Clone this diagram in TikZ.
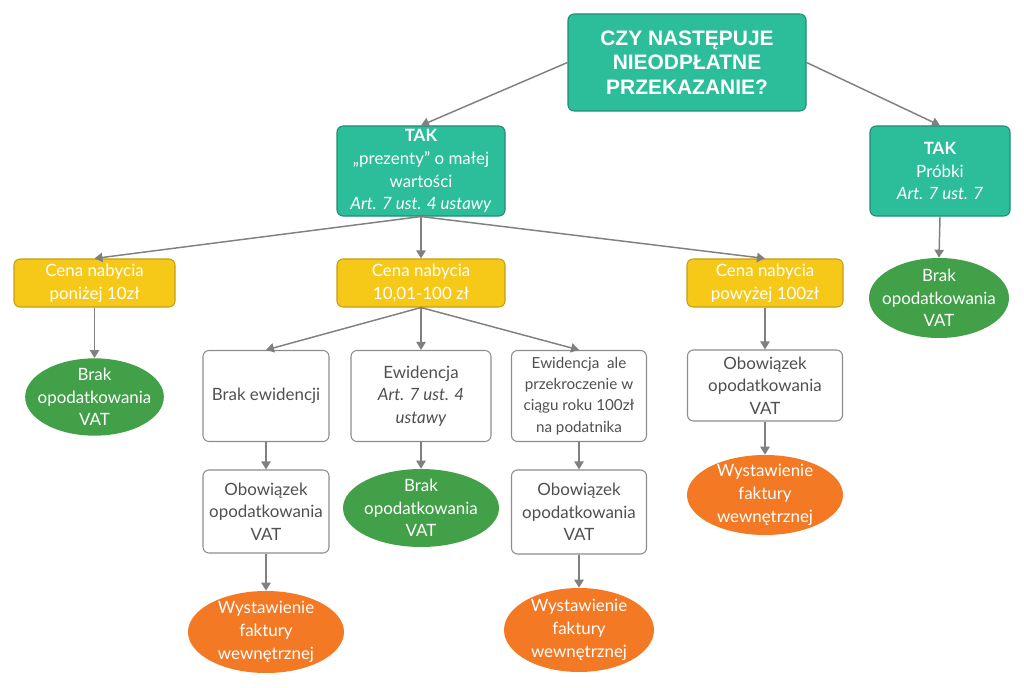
\documentclass[tikz,border=0pt]{standalone}
\usepackage{fontspec}
\setmainfont{Lato}
\newfontfamily\titlefont{Liberation Sans}
\usetikzlibrary{shapes.geometric,arrows.meta}
\definecolor{tealf}{RGB}{44,189,155}
\definecolor{teald}{RGB}{32,140,114}
\definecolor{yelf}{RGB}{246,201,24}
\definecolor{yeld}{RGB}{196,158,20}
\definecolor{grnf}{RGB}{66,160,72}
\definecolor{orgf}{RGB}{243,121,36}
\definecolor{linec}{RGB}{128,128,128}
\definecolor{boxd}{RGB}{140,140,140}
\definecolor{txtg}{RGB}{80,80,80}
\begin{document}
\begin{tikzpicture}[x=0.75pt,y=-0.75pt,
 base/.style={align=center, inner sep=0pt, font=\fontsize{12.7}{17}\selectfont},
 tealbox/.style={base, draw=teald, fill=tealf, text=white, rounded corners=4.5pt, line width=0.8pt},
 yelbox/.style={base, draw=yeld, fill=yelf, text=white, rounded corners=4.5pt, line width=0.8pt},
 whbox/.style={base, draw=boxd, fill=white, text=txtg, rounded corners=4.5pt, line width=0.8pt},
 ellbase/.style={base, ellipse, inner xsep=-14pt, inner ysep=-9pt},
 grnell/.style={ellbase, fill=grnf, text=white},
 orgell/.style={ellbase, fill=orgf, text=white},
 conn/.style={draw=linec, line width=1.1pt, -{Triangle[length=6pt,width=7pt]}}
]
\useasboundingbox (0,0) rectangle (1024,688);

\node[tealbox, minimum width=178.5pt, minimum height=72.75pt,
  font=\titlefont\bfseries\fontsize{15.7}{18.4}\selectfont] (root) at (687,62.5)
  {CZY NASTĘPUJE\\NIEODPŁATNE\\PRZEKAZANIE?};
\node[tealbox, minimum width=126pt, minimum height=67.5pt] (takl) at (421,171)
  {\textbf{TAK}\\„prezenty” o małej\\wartości\\\textit{Art. 7 ust. 4 ustawy}};
\node[tealbox, minimum width=105pt, minimum height=67.5pt] (takr) at (940,171)
  {\textbf{TAK}\\Próbki\\\textit{Art. 7 ust. 7}};

\node[yelbox, minimum width=120.75pt, minimum height=36pt] (y1) at (94.5,283)
  {Cena nabycia\\poniżej 10zł};
\node[yelbox, minimum width=126pt, minimum height=36pt] (y2) at (421,283)
  {Cena nabycia\\10,01-100 zł};
\node[yelbox, minimum width=117pt, minimum height=36pt] (y3) at (765,283)
  {Cena nabycia\\powyżej 100zł};

\node[grnell, minimum width=105pt, minimum height=60pt] (gr) at (939,298)
  {Brak\\opodatkowania\\VAT};
\node[grnell, minimum width=104pt, minimum height=58pt] (g1) at (94.5,397)
  {Brak\\opodatkowania\\VAT};

\node[whbox, minimum width=94.5pt, minimum height=68.25pt] (w1) at (266,396)
  {Brak ewidencji};
\node[whbox, minimum width=105pt, minimum height=68.25pt] (w2) at (421,396)
  {Ewidencja\\\textit{Art. 7 ust. 4}\\\textit{ustawy}};
\node[whbox, minimum width=101.25pt, minimum height=68.25pt,
  font=\fontsize{11.4}{16}\selectfont] (w3) at (579,396)
  {Ewidencja\ \ ale\\przekroczenie w\\ciągu roku 100zł\\na podatnika};
\node[whbox, minimum width=116.25pt, minimum height=53.25pt] (w4) at (765,385.5)
  {Obowiązek\\opodatkowania\\VAT};

\node[whbox, minimum width=94.5pt, minimum height=62.25pt] (b1) at (266,511.5)
  {Obowiązek\\opodatkowania\\VAT};
\node[grnell, minimum width=117pt, minimum height=58.5pt] (gm) at (421,508)
  {Brak\\opodatkowania\\VAT};
\node[whbox, minimum width=101.25pt, minimum height=63pt] (b3) at (579,512)
  {Obowiązek\\opodatkowania\\VAT};
\node[orgell, minimum width=117pt, minimum height=60pt] (o4) at (765,495)
  {Wystawienie\\faktury\\wewnętrznej};

\node[orgell, minimum width=117pt, minimum height=61.5pt] (o1) at (266,632)
  {Wystawienie\\faktury\\wewnętrznej};
\node[orgell, minimum width=112.5pt, minimum height=63pt] (o3) at (579,630)
  {Wystawienie\\faktury\\wewnętrznej};

\draw[conn] (root.west) -- (takl.north);
\draw[conn] (root.east) -- (takr.north);
\draw[conn] (takl.south) -- (y1.north);
\draw[conn] (takl.south) -- (y2.north);
\draw[conn] (takl.south) -- (y3.north);
\draw[conn] (takr.south) -- (gr.north);
\draw[conn] (y1.south) -- (g1.north);
\draw[conn] (y2.south) -- (w1.north);
\draw[conn] (y2.south) -- (w2.north);
\draw[conn] (y2.south) -- (w3.north);
\draw[conn] (y3.south) -- (w4.north);
\draw[conn] (w1.south) -- (b1.north);
\draw[conn] (w2.south) -- (gm.north);
\draw[conn] (w3.south) -- (b3.north);
\draw[conn] (w4.south) -- (o4.north);
\draw[conn] (b1.south) -- (o1.north);
\draw[conn] (b3.south) -- (o3.north);
\end{tikzpicture}
\end{document}
